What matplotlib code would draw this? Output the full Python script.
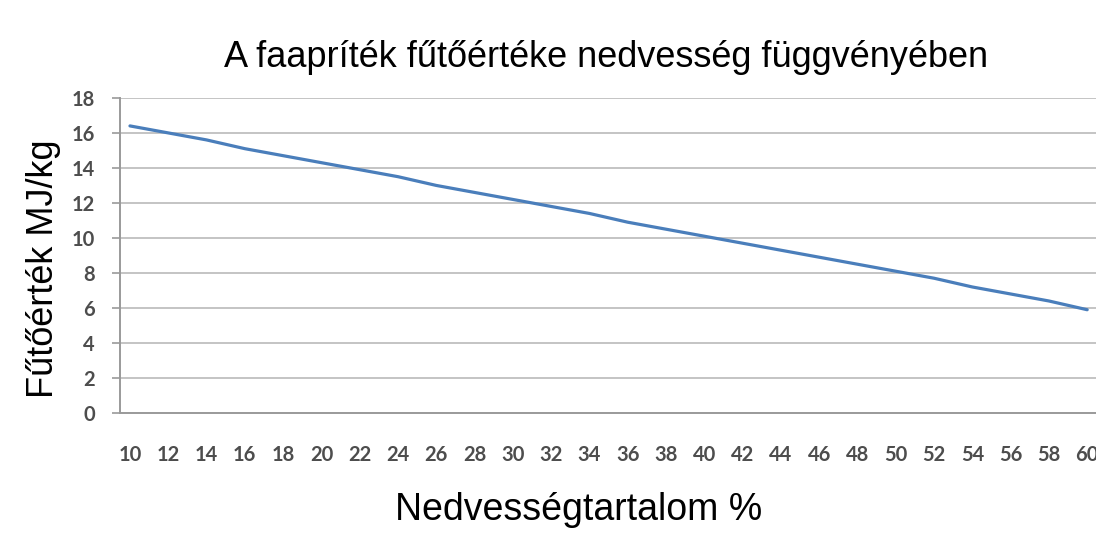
import numpy as np
import matplotlib.pyplot as plt

# Adatok
nedvesseg = [10, 12, 14, 16, 18, 20, 22, 24, 26, 28, 30, 32, 34, 36, 38, 40,
             42, 44, 46, 48, 50, 52, 54, 56, 58, 60]
futoertek = [16.4, 16.0, 15.6, 15.1, 14.7, 14.3, 13.9, 13.5, 13.0, 12.6, 12.2,
             11.8, 11.4, 10.9, 10.5, 10.1, 9.7, 9.3, 8.9, 8.5, 8.1, 7.7, 7.2,
             6.8, 6.4, 5.9]
y_ticks = [0, 2, 4, 6, 8, 10, 12, 14, 16, 18]

fig = plt.figure(figsize=(10.96, 5.35), dpi=100)
ax = fig.add_axes([0.1095, 0.228, 0.8905, 0.589])

pos = np.arange(len(nedvesseg))
ax.plot(pos, futoertek, color='#4a7ebb', linewidth=2.3, solid_capstyle='round')

ax.set_xlim(-0.26, 25.23)
ax.set_ylim(0, 18)
ax.set_yticks(y_ticks)
ax.set_xticks(pos)
ax.set_xticklabels([str(v) for v in nedvesseg])

ax.grid(axis='y', color='#c4c4c4', linewidth=1.4)
ax.set_axisbelow(True)
for s in ['top', 'right']:
    ax.spines[s].set_visible(False)
ax.spines['left'].set_color('#9a9a9a')
ax.spines['bottom'].set_color('#9a9a9a')
ax.spines['left'].set_linewidth(1.4)
ax.spines['bottom'].set_linewidth(1.4)

ax.tick_params(axis='y', length=6, width=1.2, color='#9a9a9a', pad=12,
               labelsize=14.5, labelcolor='#4d4d4d')
ax.tick_params(axis='x', length=0, pad=23, labelsize=14.5, labelcolor='#4d4d4d')
for t in ax.get_xticklabels() + ax.get_yticklabels():
    t.set_fontfamily('Lato')
    t.set_fontweight('bold')

# Feliratok
fig.text(0.0397, 0.498, 'Fűtőérték MJ/kg', rotation=90, fontsize=26,
         family='Liberation Sans', ha='center', va='center')
fig.text(0.528, 0.028, 'Nedvességtartalom %', fontsize=27,
         family='Liberation Sans', ha='center', va='baseline')
fig.text(0.553, 0.875, 'A faapríték fűtőértéke nedvesség függvényében',
         fontsize=26, family='Liberation Sans', ha='center', va='baseline')

plt.savefig('out.png')
